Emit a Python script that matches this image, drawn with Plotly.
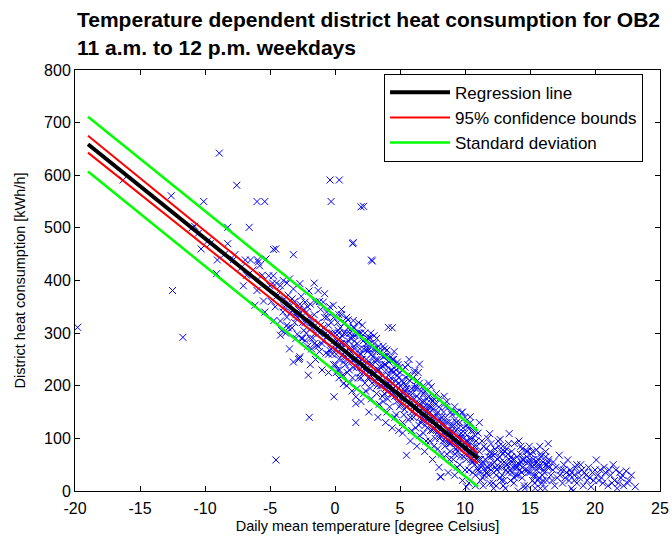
import plotly.graph_objects as go

# ---- data: measured points (temperature [°C], heat consumption [kWh/h]) ----
temp_sparse = [-19.8, -16.3, -12.6, -12.5, -11.7, -10.8, -10.3, -10.1, -9.6, -9.05, -9.1, -8.9, -8.25, -8.25,
               -7.7, -7.56, -7.05, -6.9, -6.6, -6.5, -6.0, -6.0, -5.95, -5.9, -5.8, -5.5, -5.4, -5.4, -5.3,
               -5.1, -6.15, -4.74, -4.74, -4.56, -4.7, -4.2, -4.2, -4.1, -4.5, -11.0, -10.5, -9.8, -8.5,
               -7.8, -7.2, -6.8, -6.3, -4.54, -1.98, -2.05, -0.08, 1.6]
heat_sparse = [311, 591, 561, 381, 292, 503, 460, 550, 470, 439, 413, 642, 501, 470,
               449, 581, 390, 439, 501, 439, 550, 381, 439, 435, 428, 361, 550, 340, 441,
               409, 353, 459, 409, 460, 324, 323, 296, 305, 395, 500, 490, 475, 450,
               440, 425, 410, 420, 59, 140, 220, 179, 130]

temp_outliers = [-0.38, 0.33, -0.3, 2.0, 2.2, 1.36, 1.4, 2.8, 2.87, 4.4, 2.7, 4.0, 6.5, 6.15, 9.8, 10.4, -3.2, -2.8, -2.75]
heat_outliers = [591, 591, 550, 540, 541, 470, 472, 439, 437, 310, 291, 268, 241, 229, 150, 141, 449, 250, 252]

temp_b = [-3.98, -3.5, -3.2, -2.7, -2.3, -1.5, -1.3, -0.9, -0.64, -0.13, -3.5, -2.7, -2.3, -1.4, -0.38,
          -3.9, -3.7, -3.6, -3.4, -3.3, -3.1, -3.0, -2.9, -2.8, -2.6, -2.5, -2.4, -2.2, -2.1, -2.0,
          -1.9, -1.8, -1.7, -1.6, -1.5, -1.3, -1.2, -1.1, -1.0, -0.9, -0.8, -0.7, -0.6, -0.5, -0.4,
          -0.3, -0.2, -0.1, -3.8, -2.6, -1.9, -1.0, -0.5, -3.2, -2.0, -0.8, -1.6]
heat_b = [400, 403, 384, 394, 359, 359, 381, 359, 340, 353, 270, 255, 286, 277, 267,
          350, 330, 372, 340, 310, 360, 335, 298, 345, 370, 320, 305, 340, 275, 330,
          355, 310, 290, 335, 250, 320, 300, 345, 280, 310, 330, 262, 295, 315, 350,
          270, 300, 240, 300, 290, 240, 230, 225, 245, 380, 375, 395]

temp_c = [0.0, 0.1, 0.2, 0.3, 0.4, 0.5, 0.6, 0.64, 0.7, 0.8, 0.9, 1.0, 1.1, 1.2, 1.3, 1.4, 1.4, 1.5,
          1.6, 1.6, 1.7, 1.8, 1.9, 2.0, 2.1, 2.2, 2.3, 2.4, 2.5, 2.56, 2.6, 2.7, 2.8, 2.9, 3.0, 3.1,
          3.2, 3.3, 3.4, 3.5, 3.6, 3.7, 3.8, 3.9, 4.0, 4.1, 4.1, 4.2, 4.3, 4.4, 4.5, 4.6, 4.7, 4.8,
          4.9, 5.0,
          0.05, 0.15, 0.25, 0.35, 0.45, 0.55, 0.65, 0.75, 0.85, 0.95, 1.05, 1.15, 1.25, 1.35, 1.45,
          1.55, 1.65, 1.75, 1.85, 1.95, 2.05, 2.15, 2.25, 2.35, 2.45, 2.55, 2.65, 2.75, 2.85, 2.95,
          3.05, 3.15, 3.25, 3.35, 3.45, 3.55, 3.65, 3.75, 3.85, 3.95, 4.05, 4.15, 4.25, 4.35, 4.45,
          4.55, 4.65, 4.75, 4.85, 4.95,
          0.5, 1.0, 1.8, 2.3, 3.0, 3.7, 4.3, 4.8, 0.3, 0.9, 1.3, 2.0, 2.6, 3.3, 3.9, 4.4, 4.9]
heat_c = [300, 270, 320, 250, 290, 335, 260, 204, 300, 240, 280, 310, 230, 265, 295, 324, 311, 250,
          166, 179, 280, 215, 260, 300, 235, 270, 205, 250, 290, 289, 225, 195, 260, 240, 280, 210,
          185, 250, 230, 265, 200, 170, 240, 215, 258, 311, 190, 160, 230, 205, 250, 180, 145, 220,
          195, 235,
          240, 285, 305, 230, 270, 295, 245, 320, 255, 225, 285, 300, 245, 215, 275,
          295, 235, 255, 300, 225, 250, 285, 240, 190, 270, 215, 245, 300, 205, 270,
          225, 250, 200, 275, 215, 240, 180, 255, 200, 230, 175, 245, 210, 185, 225,
          265, 200, 170, 240, 160,
          345, 325, 320, 300, 295, 275, 255, 245, 215, 200, 190, 170, 150, 140, 130, 120, 115]

temp_d = [5.0, 5.1, 5.2, 5.3, 5.4, 5.5, 5.5, 5.6, 5.7, 5.8, 5.9, 6.0, 6.1, 6.2, 6.3, 6.4, 6.5,
          6.6, 6.7, 6.8, 6.9, 7.0, 7.1, 7.2, 7.3, 7.4, 7.4, 7.5, 7.6, 7.7, 7.8, 7.9, 8.0, 8.1, 8.1,
          8.15, 8.2, 8.3, 8.4, 8.5, 8.6, 8.7, 8.8, 8.9, 9.0, 9.1, 9.2, 9.3, 9.4, 9.5, 9.6, 9.7, 9.75,
          9.9, 10.0, 10.1, 10.1, 10.2, 10.3, 10.4, 10.5, 10.6, 10.7, 10.8, 10.9, 11.0,
          5.05, 5.15, 5.25, 5.35, 5.45, 5.55, 5.65, 5.75, 5.85, 5.95, 6.05, 6.15, 6.25, 6.35, 6.45,
          6.55, 6.65, 6.75, 6.85, 6.95, 7.05, 7.15, 7.25, 7.35, 7.45, 7.55, 7.65, 7.75, 7.85, 7.95,
          8.05, 8.25, 8.35, 8.45, 8.55, 8.65, 8.75, 8.85, 8.95, 9.05, 9.15, 9.25, 9.35, 9.45, 9.55,
          9.65, 9.85, 9.95, 10.05, 10.15, 10.25, 10.35, 10.45, 10.55, 10.65, 10.75, 10.85, 10.95,
          5.2, 5.8, 6.3, 6.9, 7.5, 8.0, 8.7, 9.2, 9.8, 10.3, 10.8,
          5.4, 6.0, 6.8, 7.8, 8.6, 9.4, 10.0]
heat_d = [200, 165, 230, 145, 190, 68, 215, 170, 250, 140, 195, 160, 225, 120, 180, 150, 205,
          130, 170, 110, 190, 150, 120, 180, 95, 198, 160, 130, 175, 100, 145, 80, 160, 27, 120,
          27, 140, 95, 165, 110, 70, 130, 90, 150, 115, 60, 135, 95, 75, 120, 50, 100, 149,
          80, 110, 8, 60, 95, 40, 75, 100, 55, 85, 30, 70, 110,
          185, 210, 175, 155, 200, 180, 135, 210, 165, 185, 140, 195, 160, 210, 125,
          165, 190, 140, 160, 125, 175, 140, 160, 115, 140, 155, 120, 165, 110, 135,
          100, 125, 150, 85, 130, 105, 115, 75, 125, 95, 110, 70, 130, 90, 105,
          65, 120, 90, 70, 125, 85, 100, 60, 80, 115, 50, 95, 45,
          110, 95, 85, 75, 60, 45, 35, 30, 20, 15, 10,
          235, 215, 200, 185, 170, 150, 140]

temp_e = [11.0, 11.1, 11.1, 11.2, 11.3, 11.4, 11.5, 11.6, 11.7, 11.8, 11.9, 11.9, 12.0, 12.1, 12.2,
          12.3, 12.4, 12.5, 12.6, 12.7, 12.7, 12.8, 12.9, 13.0, 13.1, 13.2, 13.3, 13.4, 13.4, 13.5,
          13.6, 13.7, 13.8, 13.9, 14.0, 14.1, 14.2, 14.3, 14.4, 14.5, 14.6, 14.7, 14.8, 14.9, 15.0,
          15.1, 15.2, 15.3, 15.4, 15.5, 15.5, 15.6, 15.7, 15.8, 15.9, 16.0, 16.1, 16.2, 16.3, 16.4,
          16.5, 16.6, 16.8, 16.9,
          11.05, 11.25, 11.45, 11.65, 11.85, 12.05, 12.25, 12.45, 12.65, 12.85, 13.05, 13.25, 13.45,
          13.65, 13.85, 14.05, 14.25, 14.45, 14.65, 14.85, 15.05, 15.25, 15.45, 15.65, 15.85, 16.05,
          16.25, 16.45,
          11.35, 11.75, 12.15, 12.55, 12.95, 13.35, 13.75, 14.15, 14.55, 14.95, 15.35, 15.75, 16.15]
heat_e = [40, 130, 75, 20, 95, 55, 30, 80, 45, 65, 109, 15, 90, 50, 35,
          70, 10, 60, 85, 98, 25, 45, 70, 55, 5, 80, 35, 109, 60, 20,
          75, 45, 90, 30, 65, 0, 50, 85, 25, 60, 40, 75, 10, 55, 35,
          70, 20, 50, 5, 78, 40, 60, 25, 45, 15, 55, 35, 65, 20, 90,
          45, 30, 55, 10,
          60, 45, 85, 35, 50, 70, 55, 40, 65, 30, 75, 50, 40,
          60, 45, 30, 70, 45, 55, 35, 50, 60, 30, 45, 65, 40,
          50, 60,
          25, 100, 15, 95, 10, 90, 15, 95, 10, 85, 15, 85, 5]

temp_f = [17.0, 17.25, 17.3, 17.5, 17.6, 17.8, 17.9, 18.0, 18.1, 18.2, 18.3, 18.4, 18.5, 18.6, 18.7,
          18.8, 19.0, 19.1, 19.3, 19.5, 19.7, 19.8, 19.9, 20.1, 20.2, 20.4, 20.6, 20.8, 21.0, 21.2,
          21.4, 21.5, 21.7, 21.9, 22.0, 22.2, 22.4, 22.6, 23.1,
          17.4, 17.7, 18.2, 18.9, 19.4, 20.0, 20.5, 21.1, 21.8, 22.8]
heat_f = [45, 68, 30, 15, 50, 35, 59, 20, 40, 5, 0, 30, 45, 15, 35,
          25, 40, 10, 30, 45, 8, 35, 20, 59, 30, 40, 15, 35, 10, 30,
          50, 20, 5, 35, 25, 10, 38, 20, 8,
          40, 25, 35, 50, 20, 40, 25, 40, 15, 30]

temp_g = [-1.8, -1.2, -0.6, -0.2, 0.2, 0.4, 0.7, 1.0, 1.2, 1.5, 1.7, 2.0, 2.2, 2.4, 2.7, 2.9, 3.1,
          3.3, 3.5, 3.7, 3.9, 4.1, 4.3, 4.5, 4.7, 4.9, 5.1, 5.3, 5.5, 5.7, 5.9, 6.1, 6.3, 6.5, 6.7,
          6.9, 7.1, 7.3, 7.5, 7.7, 7.9, 8.1, 8.3, 8.5, 8.7, 8.9, 9.1, 9.3, 9.5, 9.7, 9.9, 10.1, 10.3,
          10.5, 10.7, 10.9,
          0.1, 0.6, 1.1, 1.7, 2.2, 2.8, 3.4, 4.0, 4.6, 5.2, 5.9, 6.5, 7.0, 7.6, 8.2, 8.8, 9.4, 10.0, 10.6,
          0.3, 0.9, 1.5, 2.1, 2.7, 3.2, 3.8, 4.4, 5.0, 5.6, 6.2, 6.8, 7.4, 8.0, 8.5, 9.0, 9.6, 10.2, 10.8,
          11.15, 11.55, 11.95, 12.35, 12.75, 13.15, 13.55, 13.95, 14.35, 14.75, 15.15, 15.55, 15.95,
          16.35, 16.75, 11.3, 11.8, 12.3, 12.8, 13.3, 13.8, 14.3, 14.8, 15.3, 15.8, 16.3, 16.7, 12.0,
          12.9, 13.6, 14.4, 15.0, 15.6, 16.2,
          17.1, 17.6, 18.1, 18.4, 18.6, 19.2, 19.6, 20.3, 20.7, 21.3, 21.6, 22.1, 22.5,
          -3.6, -3.0, -2.4, -2.2, -1.6, -1.2, -0.4, -0.1, -4.3, -4.0, -3.7, -5.0, -5.6, -4.9]
heat_g = [270, 360, 330, 260, 275, 310, 280, 250, 290, 270, 300, 260, 225, 280, 240, 255, 270,
          215, 235, 255, 195, 220, 200, 185, 230, 205, 190, 205, 160, 185, 150, 175, 195, 140, 155,
          170, 160, 135, 170, 140, 150, 105, 130, 140, 95, 110, 125, 115, 85, 110, 100, 95, 70,
          115, 65, 85,
          225, 220, 205, 195, 185, 175, 165, 150, 140, 130, 115, 105, 95, 85, 70, 60, 45, 40, 35,
          335, 330, 310, 315, 280, 290, 270, 250, 225, 220, 200, 185, 175, 175, 160, 145, 130, 120, 105,
          35, 60, 75, 45, 55, 40, 65, 50, 35, 65, 45, 55, 30,
          45, 40, 50, 30, 80, 20, 70, 25, 55, 75, 30, 70, 50, 20, 40,
          85, 55, 80, 60, 20, 75,
          25, 40, 30, 20, 50, 35, 25, 20, 45, 15, 40, 30, 15,
          310, 290, 345, 300, 280, 265, 300, 330, 380, 340, 395, 390, 410, 360]

temp_h = [-4.8, -4.6, -4.4, -4.2, -3.9, -3.7, -3.5, -3.3, -3.1, -2.9, -2.7, -2.5, -2.3, -2.1, -1.9,
          -1.7, -1.5, -1.3, -1.1, -0.9, -0.7, -0.5, -0.3, -0.1,
          0.1, 0.3, 0.5, 0.7, 0.9, 1.1, 1.3, 1.5, 1.7, 1.9, 2.1, 2.3, 2.5, 2.7, 2.9, 3.1, 3.3, 3.5,
          3.7, 3.9, 4.1, 4.3, 4.5, 4.7, 4.9,
          0.2, 0.8, 1.4, 2.0, 2.6, 3.2, 3.8, 4.4, 4.9,
          5.1, 5.3, 5.5, 5.7, 5.9, 6.1, 6.3, 6.5, 6.7, 6.9, 7.1, 7.3, 7.5, 7.7, 7.9, 8.1, 8.3, 8.5,
          8.7, 8.9, 9.1, 9.3, 9.5, 9.7, 9.9, 10.1, 10.3, 10.5, 10.7, 10.9,
          5.6, 6.4, 7.2, 8.4, 9.2, 10.4,
          11.2, 11.6, 12.0, 12.4, 12.8, 13.2, 13.6, 14.0, 14.4, 14.8, 15.2, 15.6, 16.0, 16.4, 11.4,
          12.2, 13.0, 14.6, 15.8, 13.8, 14.2, 12.6]
heat_h = [395, 350, 372, 390, 365, 315, 355, 365, 320, 330, 355, 290, 320, 350, 290,
          320, 300, 275, 315, 285, 300, 260, 320, 285,
          260, 300, 280, 255, 300, 270, 250, 285, 240, 270, 250, 230, 265, 215, 225, 245, 230, 200,
          220, 240, 205, 215, 195, 210, 180,
          230, 265, 235, 215, 270, 265, 185, 230, 215,
          175, 185, 195, 165, 175, 155, 165, 175, 135, 145, 135, 150, 115, 125, 120, 135, 110, 95,
          115, 90, 100, 80, 100, 85, 65, 80, 90, 55, 75, 60,
          240, 225, 205, 180, 160, 130,
          60, 40, 65, 30, 75, 50, 35, 45, 60, 40, 75, 50, 20, 55, 10,
          5, 20, 5, 5, 60, 40, 45]

# ---- fitted lines (end points) ----
line_temp = [-19.0, 11.0]
regression = [659, 62]
conf_upper = [675, 72]
conf_lower = [643, 52]
std_upper = [711, 114]
std_lower = [607, 8]

# ---- tick labels ----
x_ticks = [-20, -15, -10, -5, 0, 5, 10, 15, 20, 25]
x_ticklabels = ["-20", "-15", "-10", "-5", "0", "5", "10", "15", "20", "25"]
y_ticks = [0, 100, 200, 300, 400, 500, 600, 700, 800]
y_ticklabels = ["0", "100", "200", "300", "400", "500", "600", "700", "800"]

temps = temp_sparse + temp_outliers + temp_b + temp_c + temp_d + temp_e + temp_f + temp_g + temp_h
heats = heat_sparse + heat_outliers + heat_b + heat_c + heat_d + heat_e + heat_f + heat_g + heat_h

FONT = "Liberation Sans, Arial, sans-serif"

fig = go.Figure()
fig.add_trace(go.Scatter(
    x=temps, y=heats, mode="markers", showlegend=False,
    marker=dict(symbol="x-thin", size=7, line=dict(color="#0000ff", width=1), color="#0000ff"),
))
fig.add_trace(go.Scatter(x=line_temp, y=regression, mode="lines", name="Regression line",
                         line=dict(color="black", width=4)))
fig.add_trace(go.Scatter(x=line_temp, y=conf_upper, mode="lines", name="95% confidence bounds",
                         legendgroup="conf", line=dict(color="#ff0000", width=2)))
fig.add_trace(go.Scatter(x=line_temp, y=conf_lower, mode="lines", name="95% confidence bounds",
                         legendgroup="conf", showlegend=False, line=dict(color="#ff0000", width=2)))
fig.add_trace(go.Scatter(x=line_temp, y=std_upper, mode="lines", name="Standard deviation",
                         legendgroup="std", line=dict(color="#00ff00", width=2.5)))
fig.add_trace(go.Scatter(x=line_temp, y=std_lower, mode="lines", name="Standard deviation",
                         legendgroup="std", showlegend=False, line=dict(color="#00ff00", width=2.5)))

axis_common = dict(showline=True, linecolor="black", linewidth=1, mirror="ticks", ticks="inside",
                   ticklen=5, tickcolor="black", showgrid=False, zeroline=False, automargin=False,
                   tickfont=dict(family=FONT, size=16, color="black"))

fig.update_layout(
    width=672, height=541,
    margin=dict(l=75, r=12, t=70, b=50),
    paper_bgcolor="white", plot_bgcolor="white",
    font=dict(family=FONT, color="black"),
    xaxis=dict(range=[-20, 25], tickmode="array", tickvals=x_ticks, ticktext=x_ticklabels,
               ticklabelstandoff=3,
               title=dict(text="Daily mean temperature [degree Celsius]", font=dict(size=14.5), standoff=4),
               **axis_common),
    yaxis=dict(range=[0, 800], tickmode="array", tickvals=y_ticks, ticktext=y_ticklabels,
               title=dict(text="District heat consumption [kWh/h]", font=dict(size=14.5), standoff=15),
               **axis_common),
    legend=dict(x=0.971, y=0.991, xanchor="right", yanchor="top", bordercolor="black", borderwidth=1,
                bgcolor="white", font=dict(family=FONT, size=17), tracegroupgap=0, itemwidth=60),
    annotations=[
        dict(text="<b>Temperature dependent district heat consumption for OB2</b>", xref="paper",
             yref="paper", x=0, y=1, xanchor="left", yanchor="bottom", yshift=37, showarrow=False,
             font=dict(family=FONT, size=21, color="black")),
        dict(text="<b>11 a.m. to 12 p.m. weekdays</b>", xref="paper", yref="paper", x=0, y=1,
             xanchor="left", yanchor="bottom", yshift=9, showarrow=False,
             font=dict(family=FONT, size=21, color="black")),
    ],
)

fig.write_html("out.html", config={"displayModeBar": False},
               post_script="document.body.style.margin='0';document.body.style.overflow='hidden';")
